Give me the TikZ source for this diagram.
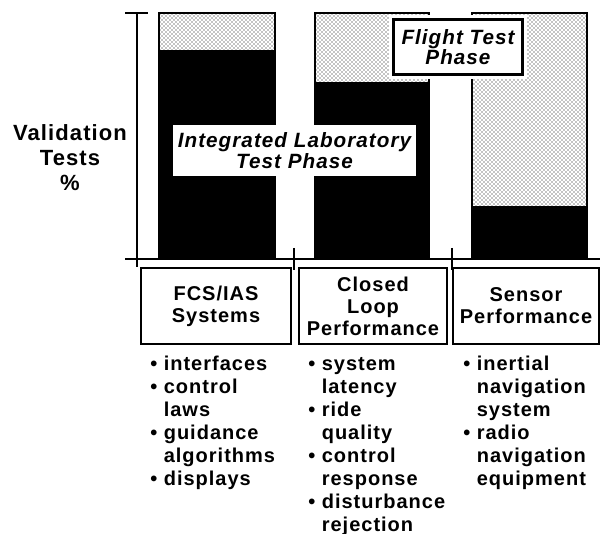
\documentclass[tikz,border=0pt]{standalone}
\usepackage{fontspec}
\setmainfont{Liberation Sans}[LetterSpace=5]
\usepackage{tikz}
\usetikzlibrary{patterns}
\newcommand{\itm}{\textbullet\ }
\newcommand{\cnt}{\phantom{\textbullet\ }}

\begin{document}
\begin{tikzpicture}[x=0.75pt,y=0.75pt,yscale=-1,xscale=1,
  txt/.style={font=\fontsize{15}{17.25}\selectfont\bfseries, inner sep=0pt},
  hdr/.style={draw, line width=1.9pt, align=center, minimum height=57pt, font=\fontsize{15}{16.5}\selectfont\bfseries},
  lst/.style={txt, anchor=north west, align=left},
  stip/.style={draw, line width=1.2pt, pattern=crosshatch dots, pattern color=black},
  solid bar/.style={draw, fill=black, line width=1.2pt}
]
\useasboundingbox (0,0) rectangle (600,534);

%Shape: Bars
\draw [stip] (159,13) rectangle (275,51);
\draw [solid bar] (159,51) rectangle (275,259);
\draw [stip] (315,13) rectangle (429,83);
\draw [solid bar] (315,83) rectangle (429,259);
\draw [stip] (472,13) rectangle (587,207);
\draw [solid bar] (472,207) rectangle (587,259);

%Shape: Axis
\draw [line width=1.5pt] (137,13) -- (137,267) (125,13) -- (148,13) (125,259) -- (600,259) (294,248) -- (294,270) (452,248) -- (452,270);

% Text Node
\draw (70,158) node (vlabel) [font=\fontsize{16.5}{18.75}\selectfont\bfseries, align=center, inner sep=0pt] {Validation\\Tests\\\%};
% Text Node
\draw (294.5,150.5) node (labphase) [fill=white, minimum width=182pt, minimum height=38pt, align=center, font=\fontsize{15.5}{13}\selectfont\bfseries\itshape] {Integrated Laboratory\\Test Phase};
% Text Node
\draw (458,47) node (flphase) [draw, fill=white, line width=1.9pt, preaction={draw=white, line width=7pt}, minimum width=97pt, minimum height=41pt, align=center, font=\fontsize{15.5}{13}\selectfont\bfseries\itshape] {Flight Test\\Phase};

% Text Node
\draw (216,306) node (fcs) [hdr, minimum width=112.5pt] {FCS/IAS\\Systems};
% Text Node
\draw (373,306) node (loop) [hdr, minimum width=111pt] {Closed\\Loop\\Performance};
% Text Node
\draw (526,306) node (sensor) [hdr, minimum width=109.5pt] {Sensor\\Performance};

% Text Node
\draw (150,356) node (fcslist) [lst] {\itm interfaces\\\itm control\\\cnt laws\\\itm guidance\\\cnt algorithms\\\itm displays};
% Text Node
\draw (308,357) node (looplist) [lst] {\itm system\\\cnt latency\\\itm ride\\\cnt quality\\\itm control\\\cnt response\\\itm disturbance\\\cnt rejection};
% Text Node
\draw (463,356) node (sensorlist) [lst] {\itm inertial\\\cnt navigation\\\cnt system\\\itm radio\\\cnt navigation\\\cnt equipment};

\end{tikzpicture}
\end{document}
